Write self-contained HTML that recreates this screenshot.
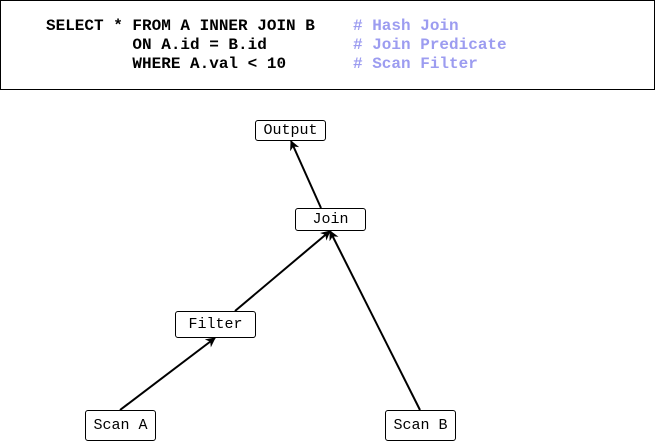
<!DOCTYPE html>
<html><head><style>
body{margin:0;width:656px;height:441px;background:#fff;overflow:hidden;position:relative;font-family:"Liberation Mono",monospace}
.q{position:absolute;left:0;top:0;width:653px;height:88px;border:1.5px solid #000}
.l{position:absolute;left:46px;font-size:16px;font-weight:bold;white-space:pre;color:#000}
.c{position:absolute;left:353px;color:#9c9cf0;font-size:16px;font-weight:bold;white-space:pre}
.n{position:absolute;border:1px solid #000;border-radius:3px;background:#fff;font-size:15px;text-align:center;box-sizing:border-box}
</style></head><body>
<div class="q"></div>
<div class="l" style="top:17px">SELECT * FROM A INNER JOIN B</div>
<div class="l" style="top:36px">         ON A.id = B.id</div>
<div class="l" style="top:55px">         WHERE A.val &lt; 10</div>
<div class="c" style="top:17px"># Hash Join</div>
<div class="c" style="top:36px"># Join Predicate</div>
<div class="c" style="top:55px"># Scan Filter</div>
<svg width="656" height="441" style="position:absolute;left:0;top:0">
<defs><marker id="a" markerWidth="10" markerHeight="10" refX="9" refY="5" orient="auto" markerUnits="userSpaceOnUse"><path d="M0,0 L10,5 L0,10 L3,5z" fill="#000"/></marker></defs>
<g stroke="#000" stroke-width="2" marker-end="url(#a)">
<line x1="321" y1="208" x2="291" y2="141"/>
<line x1="235" y1="311" x2="330" y2="231"/>
<line x1="420" y1="410" x2="330" y2="231"/>
<line x1="120" y1="410" x2="215" y2="338"/>
</g></svg>
<div class="n" style="left:255px;top:120px;width:71px;height:21px;line-height:19px">Output</div>
<div class="n" style="left:295px;top:208px;width:71px;height:23px;line-height:21px">Join</div>
<div class="n" style="left:175px;top:311px;width:81px;height:27px;line-height:25px">Filter</div>
<div class="n" style="left:85px;top:410px;width:71px;height:31px;line-height:29px">Scan A</div>
<div class="n" style="left:385px;top:410px;width:71px;height:31px;line-height:29px">Scan B</div>
</body></html>
